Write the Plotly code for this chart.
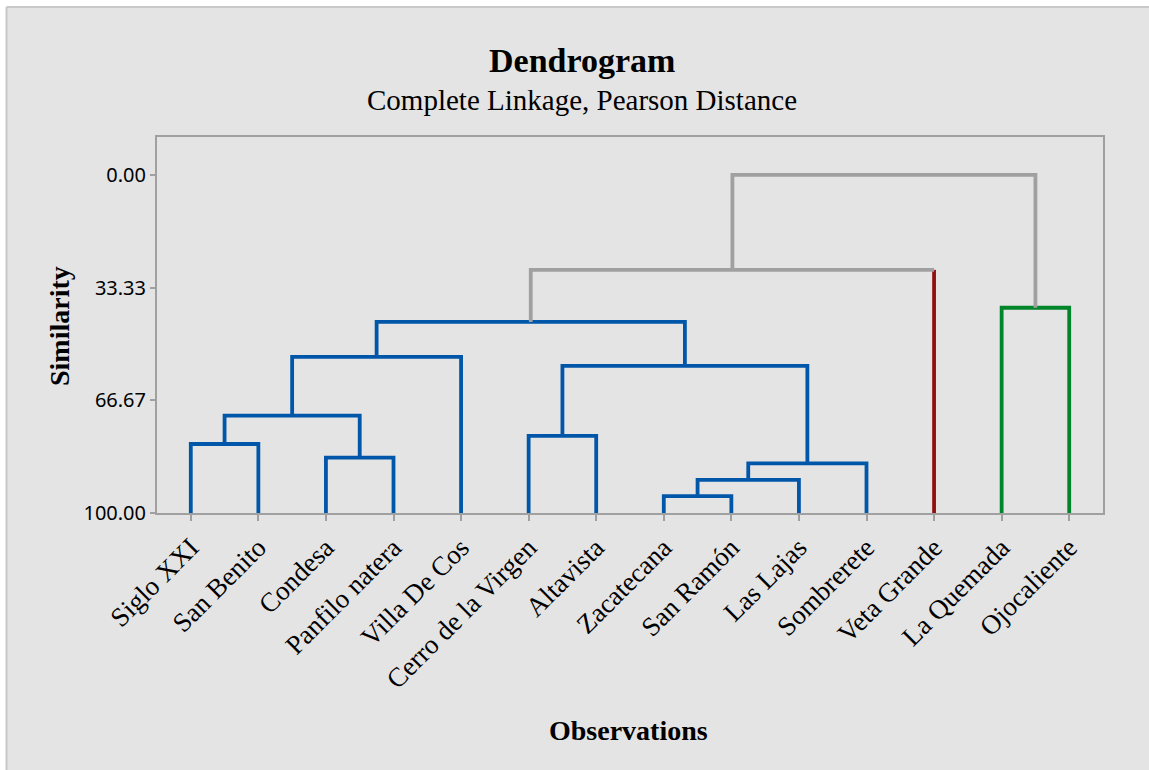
import plotly.graph_objects as go

# ---------------- data ----------------
leaves = ["Siglo XXI", "San Benito", "Condesa", "Panfilo natera", "Villa De Cos",
          "Cerro de la Virgen", "Altavista", "Zacatecana", "San Ramón", "Las Lajas",
          "Sombrerete", "Veta Grande", "La Quemada", "Ojocaliente"]

# merges: node ids 0..13 are leaves, 14.. are clusters (in order)
merge_left = [0, 2, 14, 16, 5, 7, 19, 20, 18, 17, 23, 12, 24]
merge_right = [1, 3, 15, 4, 6, 8, 9, 10, 21, 22, 11, 13, 25]
merge_similarity = [79.6, 83.6, 71.2, 53.8, 77.2, 95.0, 90.2, 85.3, 56.5, 43.5, 28.1, 39.3, 0.0]

# colour group of each node (leaves then merges)
leaf_group = ["blue"] * 11 + ["red", "green", "green"]
merge_group = ["blue"] * 10 + ["gray", "green", "gray"]

y_tick_vals = [0, 33.33, 66.67, 100]
y_tick_text = ["0.00", "33.33", "66.67", "100.00"]

palette = {"blue": "#0056a8", "red": "#8e1212", "green": "#00852a", "gray": "#a0a0a0"}

# ---------------- geometry via tree ----------------
n = len(leaves)
node_x = {i: i + 1 for i in range(n)}
node_h = {i: 100.0 for i in range(n)}
node_g = {i: leaf_group[i] for i in range(n)}
segments = {k: ([], []) for k in palette}


def add(color, xs, ys):
    segments[color][0].extend(xs + [None])
    segments[color][1].extend(ys + [None])


for k, (a, b, s) in enumerate(zip(merge_left, merge_right, merge_similarity)):
    nid = n + k
    g = merge_group[k]
    node_x[nid] = (node_x[a] + node_x[b]) / 2
    node_h[nid] = s
    node_g[nid] = g

    def vcol(c):
        return node_g[c] if (c < n or node_g[c] == g) else "gray"

    ca, cb = vcol(a), vcol(b)
    pts = [(node_x[a], node_h[a], None), (node_x[a], s, ca), (node_x[b], s, g), (node_x[b], node_h[b], cb)]
    cur_col = None
    cur = []
    for i in range(1, 4):
        col = pts[i][2]
        if col != cur_col:
            if cur:
                add(cur_col, [p[0] for p in cur], [p[1] for p in cur])
            cur = [pts[i - 1]]
            cur_col = col
        cur.append(pts[i])
    add(cur_col, [p[0] for p in cur], [p[1] for p in cur])

fig = go.Figure()
for col, (xs, ys) in segments.items():
    if xs:
        fig.add_trace(go.Scatter(x=xs, y=ys, mode="lines", hoverinfo="skip",
                                 line=dict(color=palette[col], width=3.8),
                                 showlegend=False))

W, H = 1149, 770
L, T = 157, 137
R = W - 1103
B = H - 513
pw, ph = W - L - R, H - T - B


def px(x):
    return (x - L) / pw


def py(y):
    return (T + ph - y) / ph


serif = "Liberation Serif, Times New Roman, serif"
sans = "Noto Sans, DejaVu Sans, sans-serif"

frame = "#c8c8c8"
fig.update_layout(
    width=W, height=H,
    margin=dict(l=L, r=R, t=T, b=B, autoexpand=False),
    paper_bgcolor="#ffffff",
    plot_bgcolor="#ffffff",
    xaxis=dict(range=[0.5, n + 0.5], tickvals=list(range(1, n + 1)), ticktext=leaves,
               tickangle=-45, ticks="outside", ticklen=6, tickwidth=2, tickcolor="#a0a0a0",
               showline=True, linecolor="#a0a0a0", linewidth=2, mirror=True,
               showgrid=False, zeroline=False,
               tickfont=dict(family=serif, size=27, color="#000000")),
    yaxis=dict(range=[100, -11.2], tickvals=y_tick_vals, ticktext=y_tick_text,
               ticks="outside", ticklen=5, tickwidth=2, tickcolor="#a0a0a0",
               showline=True, linecolor="#a0a0a0", linewidth=2, mirror=True,
               showgrid=False, zeroline=False,
               tickfont=dict(family=sans, size=20, color="#000000")),
    shapes=[
        dict(type="rect", xref="paper", yref="paper",
             x0=px(6.5), x1=px(W), y0=py(H), y1=py(7),
             fillcolor="#e4e4e4", line=dict(width=0), layer="below"),
        dict(type="line", xref="paper", yref="paper", x0=px(6.5), x1=px(W), y0=py(7), y1=py(7),
             line=dict(color=frame, width=2), layer="below"),
        dict(type="line", xref="paper", yref="paper", x0=px(6.5), x1=px(6.5), y0=py(H), y1=py(7),
             line=dict(color=frame, width=2), layer="below"),
    ],
    annotations=[
        dict(text="<b>Dendrogram</b>", xref="paper", yref="paper", x=px(582), y=py(60),
             xanchor="center", yanchor="middle", showarrow=False,
             font=dict(family=serif, size=34, color="#000000")),
        dict(text="Complete Linkage, Pearson Distance", xref="paper", yref="paper",
             x=px(582), y=py(100), xanchor="center", yanchor="middle", showarrow=False,
             font=dict(family=serif, size=29, color="#000000")),
        dict(text="<b>Observations</b>", xref="paper", yref="paper", x=px(628), y=py(730),
             xanchor="center", yanchor="middle", showarrow=False,
             font=dict(family=serif, size=28, color="#000000")),
        dict(text="<b>Similarity</b>", xref="paper", yref="paper", x=px(59), y=py(326),
             xanchor="center", yanchor="middle", showarrow=False, textangle=-90,
             font=dict(family=serif, size=28, color="#000000")),
    ],
)

fig.write_html("out.html", config={"displayModeBar": False},
               post_script="document.body.style.margin='0';document.body.style.overflow='hidden';")
